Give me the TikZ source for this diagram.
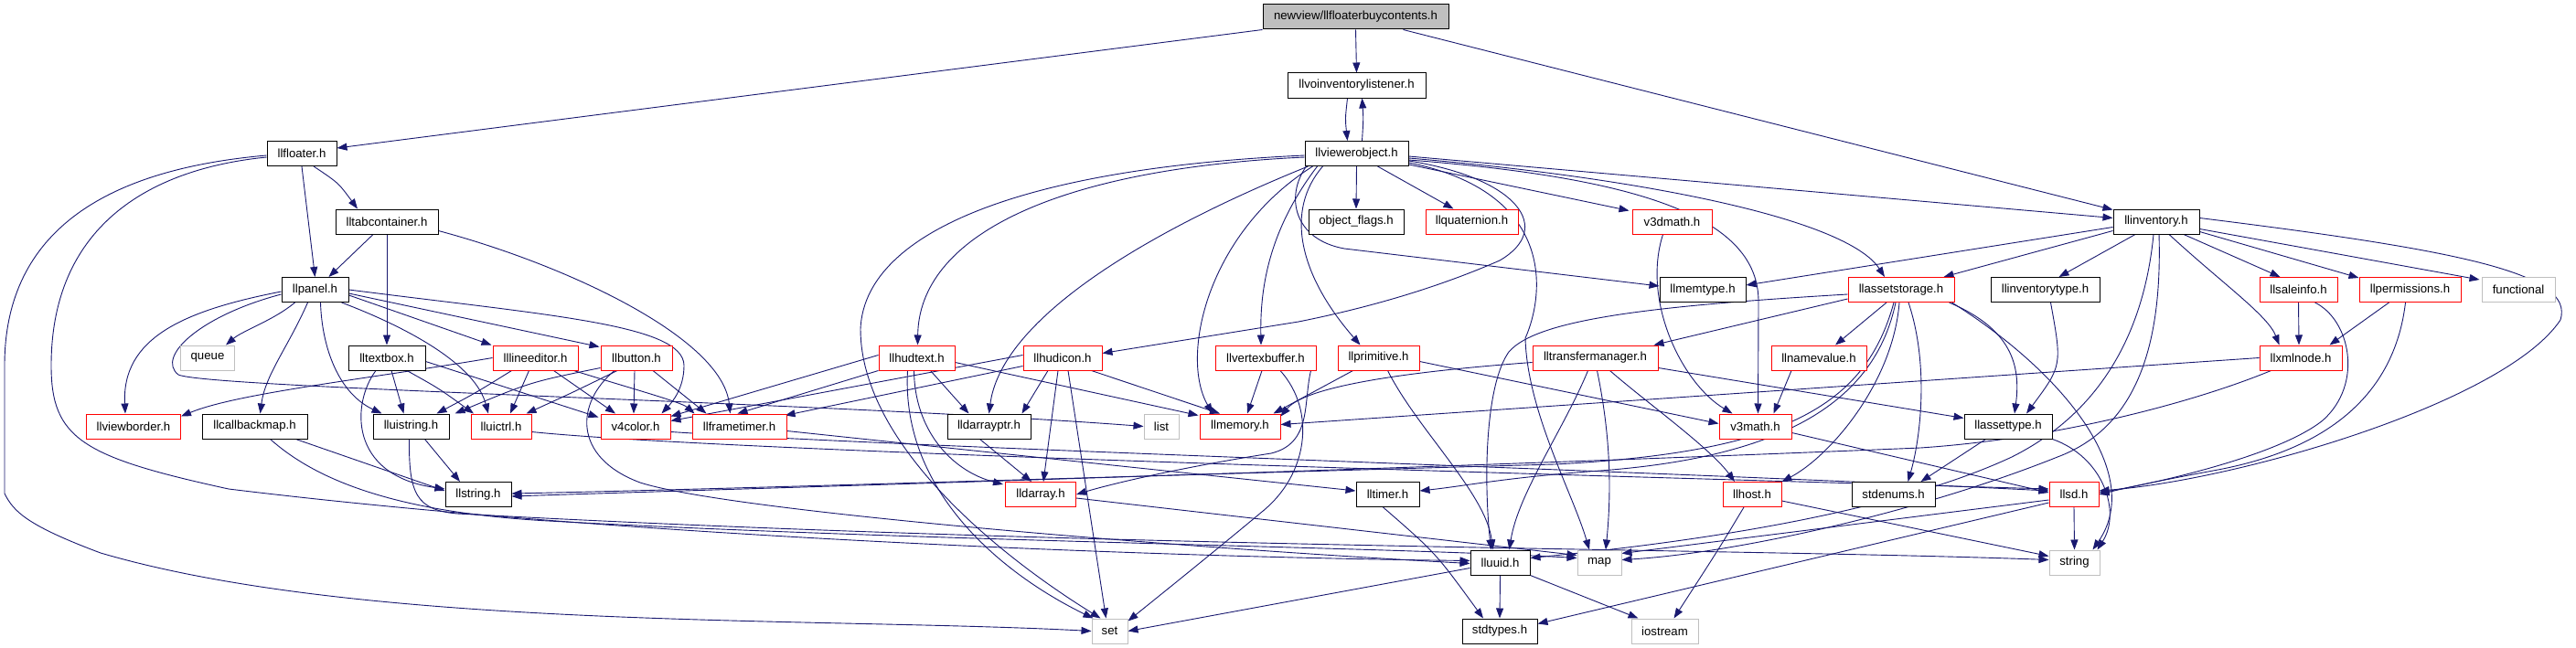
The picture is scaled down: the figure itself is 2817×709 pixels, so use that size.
\documentclass[tikz,border=0pt]{standalone}
\usepackage{fontspec}
\setmainfont[Ligatures={NoCommon}]{Liberation Sans}
\usetikzlibrary{arrows.meta,calc}
\definecolor{edgec}{HTML}{191970}
\definecolor{grayb}{HTML}{BFBFBF}
\newcommand\fsz{\fontsize{13.2}{15}\selectfont}
\newcommand\mknode[6]{\node[#5, minimum width=#4pt] (#1) at (#2,#3) {#6};}
\pgfdeclarelayer{bglayer}
\pgfdeclarelayer{edgelayer}
\pgfsetlayers{bglayer,edgelayer,main}
\tikzset{
  nb/.style={draw=black, line width=1pt, minimum height=27pt, inner sep=0pt, font=\fsz, fill=white, text=black},
  nr/.style={nb, draw=red},
  ng/.style={nb, draw=grayb},
  nroot/.style={nb, fill=grayb},
  edg/.style={draw=edgec, line width=0.9pt, -{Triangle[length=11pt,width=8pt]}}
}
\begin{document}
\begin{tikzpicture}[x=1pt,y=-1pt]
\useasboundingbox (0,0) rectangle (2817,709);
\begin{pgfonlayer}{bglayer}
\fill[white] (0,0) rectangle (2817,709);
\end{pgfonlayer}
% nodes
\mknode{root}{1482.5}{18.5}{203}{nroot}{newview/llfloaterbuycontents.h}
\mknode{vil}{1483.5}{93.5}{151}{nb}{llvoinventorylistener.h}
\mknode{vo}{1483.5}{168}{113}{nb}{llviewerobject.h}
\mknode{flt}{330}{168}{76}{nb}{llfloater.h}
\mknode{tab}{423}{242.5}{112}{nb}{lltabcontainer.h}
\mknode{oflags}{1483}{242.5}{104}{nb}{object\_flags.h}
\mknode{quat}{1609.5}{242.5}{101}{nr}{llquaternion.h}
\mknode{v3d}{1828.5}{242.5}{87}{nr}{v3dmath.h}
\mknode{inv}{2358}{242.5}{94}{nb}{llinventory.h}
\mknode{pnl}{344.5}{317}{73}{nb}{llpanel.h}
\mknode{mt}{1862}{317}{94}{nb}{llmemtype.h}
\mknode{astor}{2079}{317}{116}{nr}{llassetstorage.h}
\mknode{invt}{2236.5}{317}{119}{nb}{llinventorytype.h}
\mknode{sale}{2513.5}{317}{85}{nr}{llsaleinfo.h}
\mknode{perm}{2635.5}{317}{111}{nr}{llpermissions.h}
\mknode{func}{2754}{317}{80}{ng}{functional}
\mknode{queue}{227}{391.5}{59}{ng}{queue}
\mknode{tb}{423}{391.5}{84}{nb}{lltextbox.h}
\mknode{le}{585.5}{391.5}{93}{nr}{lllineeditor.h}
\mknode{btn}{696}{391.5}{78}{nr}{llbutton.h}
\mknode{hudt}{1002.5}{391.5}{83}{nr}{llhudtext.h}
\mknode{hudi}{1162}{391.5}{86}{nr}{llhudicon.h}
\mknode{vb}{1384}{391.5}{110}{nr}{llvertexbuffer.h}
\mknode{prim}{1507.5}{391.5}{89}{nr}{llprimitive.h}
\mknode{tm}{1744.5}{391.5}{137}{nr}{lltransfermanager.h}
\mknode{nv}{1989}{391.5}{104}{nr}{llnamevalue.h}
\mknode{xml}{2516}{391.5}{90}{nr}{llxmlnode.h}
\mknode{vbd}{146}{466.5}{103}{nr}{llviewborder.h}
\mknode{cbm}{278.5}{466.5}{115}{nb}{llcallbackmap.h}
\mknode{uis}{449.5}{466.5}{83}{nb}{lluistring.h}
\mknode{uic}{548}{466.5}{66}{nr}{lluictrl.h}
\mknode{v4}{695}{466.5}{76}{nr}{v4color.h}
\mknode{ft}{808.5}{466.5}{103}{nr}{llframetimer.h}
\mknode{dap}{1081.5}{466.5}{91}{nb}{lldarrayptr.h}
\mknode{list}{1270}{466.5}{38}{ng}{list}
\mknode{mem}{1356}{466.5}{88}{nr}{llmemory.h}
\mknode{v3}{1919.5}{466.5}{79}{nr}{v3math.h}
\mknode{atype}{2196}{466.5}{96}{nb}{llassettype.h}
\mknode{str}{523}{541}{72}{nb}{llstring.h}
\mknode{da}{1138}{541}{77}{nr}{lldarray.h}
\mknode{tmr}{1517.5}{541}{69}{nb}{lltimer.h}
\mknode{host}{1916}{541}{64}{nr}{llhost.h}
\mknode{se}{2070.5}{541}{91}{nb}{stdenums.h}
\mknode{sd}{2268}{541}{54}{nr}{llsd.h}
\mknode{uuid}{1640.5}{615.5}{65}{nb}{lluuid.h}
\mknode{map}{1749}{615.5}{48}{ng}{map}
\mknode{string}{2268.5}{615.5}{55}{ng}{string}
\mknode{set}{1213.5}{690.5}{39}{ng}{set}
\mknode{stdt}{1640}{690.5}{82}{nb}{stdtypes.h}
\mknode{ios}{1820.5}{690.5}{73}{ng}{iostream}
\begin{pgfonlayer}{edgelayer}
% root
\draw[edg] (root.south west) -- ($(flt.east)+(0,-6)$);
\draw[edg] (root.south) -- (vil.north);
\draw[edg] ($(root.south)+(52,0)$) -- ($(inv.west)+(0,-13)$);
\draw[edg] ($(vil.south)+(-10,0)$) .. controls (1471,130) .. ($(vo.north)+(-10,0)$);
\draw[edg] ($(vo.north)+(6,0)$) .. controls (1491,130) .. ($(vil.south)+(6,0)$);
% llfloater
\draw[edg] (flt.south) -- (pnl.north);
\draw[edg] ($(flt.south)+(13,0)$) .. controls (370,200) .. ($(tab.north)+(-32,0)$);
\draw[edg] ($(flt.west)+(0,4)$) .. controls (160,185) and (56,250) .. (56,400) .. controls (56,480) and (90,500) .. (250,535) .. controls (700,590) and (1300,610) .. ($(uuid.west)+(0,-2)$);
\draw[edg] ($(flt.west)+(0,2)$) .. controls (120,185) and (5,250) .. (5,400) -- (5,540) .. controls (15,560) and (30,575) .. (110,605) .. controls (400,690) and (900,675) .. (set.west);
% lltabcontainer
\draw[edg] ($(tab.south)+(-15,0)$) -- ($(pnl.north)+(15,0)$);
\draw[edg] (tab.south) -- (tb.north);
\draw[edg] ($(tab.east)+(0,10)$) .. controls (620,290) and (790,370) .. ($(ft.north)+(-10,0)$);
% llpanel
\draw[edg] ($(pnl.south)+(-22,0)$) .. controls (300,350) and (265,362) .. ($(queue.north)+(20,0)$);
\draw[edg] ($(pnl.west)+(0,2)$) .. controls (200,340) and (133,370) .. ($(vbd.north)+(-9,0)$);
\draw[edg] ($(pnl.west)+(0,5)$) .. controls (220,345) and (170,390) .. (195,410) .. controls (230,425) and (900,440) .. (list.west);
\draw[edg] ($(pnl.south)+(-8,0)$) .. controls (315,380) and (290,410) .. ($(cbm.north)+(6,0)$);
\draw[edg] ($(pnl.south)+(6,0)$) .. controls (352,380) and (370,430) .. ($(uis.north)+(-32,0)$);
\draw[edg] ($(pnl.south east)+(-8,0)$) .. controls (450,360) and (520,400) .. ($(uic.north)+(-14,0)$);
\draw[edg] ($(pnl.east)+(0,6)$) -- ($(le.north west)+(-1,0)$);
\draw[edg] ($(pnl.east)+(0,4)$) -- ($(btn.north west)+(-1,2)$);
\draw[edg] (pnl.east) .. controls (600,345) and (748,355) .. (748,400) .. controls (748,425) and (735,440) .. ($(v4.north east)+(-10,0)$);
% lltextbox
\draw[edg] ($(tb.south)+(5,0)$) -- ($(uis.north)+(-8,0)$);
\draw[edg] ($(tb.south)+(22,0)$) .. controls (480,425) .. ($(uic.north)+(-30,0)$);
\draw[edg] ($(tb.east)+(0,4)$) -- ($(v4.north west)+(-2,4)$);
\draw[edg] ($(tb.south)+(-12,0)$) .. controls (385,440) and (380,520) .. ($(str.west)+(0,-6)$);
% lllineeditor
\draw[edg] (le.west) .. controls (400,415) and (260,430) .. ($(vbd.north east)+(0,3)$);
\draw[edg] ($(le.south)+(-26,0)$) .. controls (520,430) .. ($(uis.north)+(28,0)$);
\draw[edg] ($(le.south)+(-7,0)$) -- ($(uic.north)+(10,0)$);
\draw[edg] ($(le.south)+(20,0)$) -- ($(v4.north)+(-22,0)$);
\draw[edg] ($(le.south east)+(-5,0)$) .. controls (690,425) and (745,440) .. ($(ft.north west)+(3,0)$);
% llbutton
\draw[edg] ($(btn.south west)+(0,-3)$) .. controls (580,418) .. ($(uis.north east)+(6,0)$);
\draw[edg] ($(btn.south)+(-21,0)$) .. controls (625,430) .. ($(uic.north east)+(-6,0)$);
\draw[edg] ($(btn.south)+(-2,0)$) -- ($(v4.north)+(-2,0)$);
\draw[edg] ($(btn.south)+(18,0)$) -- ($(ft.north west)+(16,0)$);
\draw[edg] ($(btn.south)+(-24,0)$) .. controls (630,440) and (625,500) .. (700,528) .. controls (800,560) and (1300,600) .. ($(uuid.west)+(0,1)$);
% llcallbackmap, lluistring, lluictrl, v4color, llframetimer
\draw[edg] ($(cbm.south)+(45,0)$) -- ($(str.west)+(0,-4)$);
\draw[edg] ($(cbm.south)+(17,0)$) .. controls (340,520) and (420,560) .. (600,570) .. controls (1000,592) and (1500,598) .. ($(map.west)+(0,-5)$);
\draw[edg] ($(uis.south)+(15,0)$) -- ($(str.north)+(-20,0)$);
\draw[edg] ($(uis.south)+(-2,0)$) .. controls (447,540) and (455,558) .. (500,562) .. controls (1200,600) and (1900,600) .. ($(string.west)+(0,-3)$);
\draw[edg] ($(uic.east)+(0,6)$) .. controls (800,495) and (1800,522) .. ($(sd.west)+(0,-6)$);
\draw[edg] ($(v4.east)+(0,6)$) .. controls (1000,490) and (1800,515) .. ($(sd.west)+(0,-4)$);
\draw[edg] ($(ft.east)+(0,5)$) -- ($(tmr.west)+(0,-4)$);
% llviewerobject
\draw[edg] (vo.south) -- (oflags.north);
\draw[edg] ($(vo.south)+(23,0)$) -- ($(quat.north)+(-20,0)$);
\draw[edg] ($(vo.south east)+(0,-2)$) -- ($(v3d.north west)+(-3,2)$);
\draw[edg] ($(vo.south west)+(2,0)$) .. controls (1405,215) and (1415,262) .. (1470,272) -- ($(mt.west)+(0,-4)$);
\draw[edg] ($(vo.east)+(0,5)$) .. controls (1800,195) and (2020,240) .. ($(astor.north)+(-18,0)$);
\draw[edg] ($(vo.east)+(0,3)$) -- ($(inv.west)+(0,-4)$);
\draw[edg] ($(vo.east)+(0,7)$) .. controls (1800,195) and (1923,240) .. (1923,330) -- ($(v3.north)+(3,0)$);
\draw[edg] ($(vo.south east)+(0,-4)$) .. controls (1700,210) and (1690,320) .. (1668,370) .. controls (1670,450) and (1720,540) .. ($(map.north)+(-11,0)$);
\draw[edg] ($(vo.west)+(0,2)$) .. controls (1100,185) and (945,260) .. (941,360) .. controls (941,480) and (1080,600) .. ($(set.north)+(-10,0)$);
\draw[edg] ($(vo.west)+(0,4)$) .. controls (1150,185) and (1005,260) .. ($(hudt.north)+(1,0)$);
\draw[edg] ($(vo.south west)+(4,0)$) .. controls (1250,255) and (1095,350) .. (dap.north);
\draw[edg] ($(vo.south west)+(9,0)$) .. controls (1320,255) and (1290,390) .. ($(mem.north)+(-30,0)$);
\draw[edg] ($(vo.south west)+(14,0)$) .. controls (1385,255) and (1378,320) .. ($(vb.north)+(-5,0)$);
\draw[edg] ($(vo.south west)+(20,0)$) .. controls (1405,230) and (1420,300) .. ($(prim.north)+(-20,0)$);
\draw[edg] ($(vo.east)+(0,8)$) .. controls (1660,195) and (1700,250) .. (1640,285) .. controls (1560,320) and (1480,340) .. (1420,352) -- ($(hudi.east)+(0,-5)$);
% llhudtext
\draw[edg] (hudt.south west) -- ($(ft.north)+(-2,0)$);
\draw[edg] ($(hudt.west)+(0,-3)$) -- ($(v4.north east)+(0,3)$);
\draw[edg] ($(hudt.south)+(15,0)$) -- ($(dap.north)+(-22,0)$);
\draw[edg] ($(hudt.east)+(0,5)$) -- ($(mem.north west)+(-1,2)$);
\draw[edg] ($(hudt.south)+(-3,0)$) .. controls (1000,470) and (1040,515) .. ($(da.north west)+(-2,3)$);
\draw[edg] ($(hudt.south)+(-10,0)$) .. controls (985,540) and (1100,630) .. ($(set.north west)+(2,0)$);
% llhudicon
\draw[edg] ($(hudi.west)+(0,-3)$) -- ($(v4.east)+(0,-6)$);
\draw[edg] ($(hudi.south west)+(0,-5)$) -- ($(ft.north east)+(-2,2)$);
\draw[edg] ($(hudi.south)+(-16,0)$) -- ($(dap.north east)+(-10,0)$);
\draw[edg] ($(hudi.south)+(-5,0)$) -- ($(da.north)+(3,0)$);
\draw[edg] ($(hudi.south east)+(-12,0)$) -- ($(mem.north)+(-22,0)$);
\draw[edg] ($(hudi.south)+(6,0)$) -- ($(set.north)+(-4,0)$);
% lldarrayptr, lldarray
\draw[edg] ($(dap.south)+(-10,0)$) -- ($(da.north)+(-10,0)$);
\draw[edg] ($(da.east)+(0,4)$) -- ($(map.west)+(0,-8)$);
% llvertexbuffer
\draw[edg] ($(vb.south)+(-4,0)$) -- ($(mem.north)+(8,0)$);
\draw[edg] ($(vb.south)+(16,0)$) .. controls (1440,450) and (1430,520) .. (1380,560) .. controls (1320,610) and (1270,650) .. ($(set.north east)+(0,3)$);
\draw[edg] ($(vb.south east)+(-6,0)$) .. controls (1425,440) and (1435,485) .. (1390,496) .. controls (1300,510) and (1220,528) .. (da.east);
% llprimitive
\draw[edg] ($(prim.south west)+(17,0)$) -- ($(mem.north east)+(-8,0)$);
\draw[edg] ($(prim.east)+(0,4)$) -- ($(v3.west)+(0,-3)$);
\draw[edg] ($(prim.south)+(10,0)$) .. controls (1550,470) and (1625,540) .. ($(uuid.north)+(-8,0)$);
% lltransfermanager
\draw[edg] ($(tm.west)+(0,5)$) .. controls (1560,405) and (1430,420) .. ($(mem.north east)+(0,3)$);
\draw[edg] ($(tm.south)+(-8,0)$) .. controls (1710,470) and (1660,540) .. ($(uuid.north)+(10,0)$);
\draw[edg] ($(tm.south)+(2,0)$) .. controls (1762,480) and (1762,540) .. ($(map.north)+(7,0)$);
\draw[edg] ($(tm.south)+(16,0)$) .. controls (1800,440) and (1870,490) .. ($(host.north)+(-19,0)$);
\draw[edg] ($(tm.south east)+(0,-3)$) -- ($(atype.west)+(0,-9)$);
% llassetstorage
\draw[edg] ($(astor.south)+(-16,0)$) -- ($(nv.north)+(18,0)$);
\draw[edg] ($(astor.south)+(-2,0)$) .. controls (2070,420) and (2000,500) .. (host.north east);
\draw[edg] ($(astor.south)+(8,0)$) .. controls (2110,400) and (2100,480) .. ($(se.north)+(16,0)$);
\draw[edg] ($(astor.south east)+(-6,0)$) .. controls (2200,360) and (2210,400) .. ($(atype.north)+(7,0)$);
\draw[edg] ($(astor.south east)+(-3,0)$) .. controls (2260,410) and (2345,520) .. ($(string.north east)+(-8,0)$);
\draw[edg] ($(astor.south west)+(0,-4)$) -- ($(tm.north east)+(-5,0)$);
\draw[edg] ($(astor.west)+(0,5)$) .. controls (1800,335) and (1680,350) .. (1650,385) .. controls (1625,420) and (1622,520) .. ($(uuid.north)+(-10,0)$);
\draw[edg] ($(astor.south)+(-6,0)$) .. controls (2050,440) and (1950,500) .. (1750,515) .. controls (1650,522) and (1600,532) .. ($(tmr.east)+(0,-4)$);
\draw[edg] ($(astor.south)+(-8,0)$) .. controls (2040,445) and (1950,495) .. (1700,508) .. controls (1200,522) and (800,535) .. ($(str.east)+(0,-1)$);
% llinventory
\draw[edg] ($(inv.west)+(0,6)$) -- ($(mt.east)+(0,-5)$);
\draw[edg] ($(inv.south west)+(0,-4)$) -- ($(astor.north east)+(-12,0)$);
\draw[edg] ($(inv.south)+(-23,0)$) -- ($(invt.north)+(15,0)$);
\draw[edg] ($(inv.south)+(30,0)$) -- ($(sale.north)+(-20,0)$);
\draw[edg] ($(inv.south east)+(0,-3)$) -- ($(perm.north west)+(0,1)$);
\draw[edg] ($(inv.east)+(0,8)$) -- ($(func.north west)+(-2,3)$);
\draw[edg] ($(inv.south)+(14,0)$) .. controls (2430,310) and (2480,345) .. ($(xml.north west)+(22,0)$);
\draw[edg] ($(inv.east)+(0,-4)$) .. controls (2700,275) and (2815,300) .. (2800,350) .. controls (2740,440) and (2450,525) .. ($(sd.east)+(0,-4)$);
\draw[edg] ($(inv.south)+(-3,0)$) .. controls (2345,360) and (2300,450) .. (2200,500) .. controls (2050,570) and (1800,598) .. ($(uuid.east)+(0,-5)$);
\draw[edg] ($(inv.south)+(3,0)$) .. controls (2365,390) and (2330,470) .. (2250,500) .. controls (2100,560) and (1900,605) .. ($(map.east)+(0,-3)$);
% llsaleinfo, llpermissions
\draw[edg] (sale.south) -- ($(xml.north)+(-2,0)$);
\draw[edg] ($(sale.south)+(18,0)$) .. controls (2570,350) and (2585,420) .. (2540,460) .. controls (2490,500) and (2350,530) .. ($(sd.east)+(0,-2)$);
\draw[edg] ($(perm.south)+(-23,0)$) -- ($(xml.north east)+(-14,0)$);
\draw[edg] ($(perm.south)+(-5,0)$) .. controls (2620,420) and (2560,490) .. (2420,515) .. controls (2350,528) and (2320,535) .. (sd.east);
% llxmlnode
\draw[edg] (xml.west) -- ($(mem.east)+(0,-2)$);
\draw[edg] ($(xml.south west)+(13,0)$) .. controls (2400,440) and (2250,480) .. (2100,490) .. controls (1500,515) and (800,535) .. ($(str.east)+(0,2)$);
% llsd
\draw[edg] (sd.south) -- (string.north);
\draw[edg] ($(sd.south west)+(0,-5)$) -- ($(stdt.east)+(0,-8)$);
\draw[edg] ($(sd.west)+(0,6)$) -- ($(map.east)+(0,-10)$);
% llhost, lluuid, lltimer
\draw[edg] ($(host.east)+(0,7)$) -- ($(string.west)+(0,-7)$);
\draw[edg] ($(host.south)+(-9,0)$) .. controls (1880,600) .. ($(ios.north)+(10,0)$);
\draw[edg] (uuid.south) -- (stdt.north);
\draw[edg] (uuid.south east) -- ($(ios.north west)+(8,0)$);
\draw[edg] ($(uuid.west)+(0,6)$) -- (set.east);
\draw[edg] ($(tmr.south)+(-5,0)$) .. controls (1570,605) .. ($(stdt.north)+(-18,0)$);
% llassettype, v3dmath, llnamevalue, llinventorytype, v3math
\draw[edg] ($(atype.south west)+(24,0)$) -- ($(se.north east)+(-16,0)$);
\draw[edg] (atype.south east) .. controls (2300,500) and (2320,560) .. ($(string.north east)+(-3,0)$);
\draw[edg] ($(v3d.south)+(-10,0)$) .. controls (1795,330) and (1840,420) .. ($(v3.north)+(-25,0)$);
\draw[edg] ($(nv.south)+(-30,0)$) -- ($(v3.north)+(20,0)$);
\draw[edg] ($(invt.south)+(6,0)$) .. controls (2255,400) .. ($(atype.north)+(20,0)$);
\draw[edg] ($(v3.east)+(0,7)$) -- ($(sd.west)+(0,-2)$);
\end{pgfonlayer}
\end{tikzpicture}
\end{document}
